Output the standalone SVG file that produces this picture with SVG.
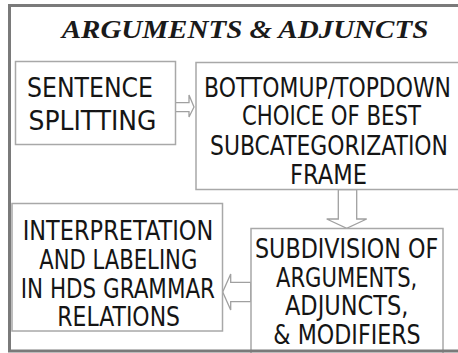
<svg xmlns="http://www.w3.org/2000/svg" width="458" height="353" viewBox="0 0 458 353">
<style>
.box{fill:#fff;stroke:#a8a8a8;stroke-width:1.5}
.arr{fill:#fff;stroke:#a0a0a0;stroke-width:1.3;stroke-linejoin:miter}
.t{font-family:"DejaVu Sans","Liberation Sans",sans-serif;font-size:27px;fill:#151515}
.title{font-family:"Liberation Serif",serif;font-size:25px;font-weight:bold;font-style:italic;fill:#1a1a1a}
</style>
<rect x="0" y="0" width="458" height="353" fill="#fff"/>
<text class="title" x="61.7" y="37.5" textLength="366.6" lengthAdjust="spacingAndGlyphs">ARGUMENTS &amp; ADJUNCTS</text>
<g id="connectors">
<polygon class="arr" points="175,102.7 189,102.7 189,95 194,107 189,117 189,111.7 175,111.7"/>
<polygon class="arr" points="338.3,189.5 356.7,189.5 356.7,219 366.7,219 346.7,228.3 326.7,219 338.3,219"/>
<polygon class="arr" points="250.7,282.3 230.7,282.3 230.7,274 222.7,292 230.7,310 230.7,301.7 250.7,301.7"/>
</g>
<g id="sentence">
<rect class="box" x="15.5" y="61.5" width="160" height="83"/>
<text class="t" x="27" y="97" textLength="126" lengthAdjust="spacingAndGlyphs">SENTENCE</text>
<text class="t" x="28.5" y="129.5" textLength="128" lengthAdjust="spacingAndGlyphs">SPLITTING</text>
</g>
<g id="choice">
<rect class="box" x="196" y="62.5" width="270" height="127"/>
<text class="t" x="204" y="97" textLength="247" lengthAdjust="spacingAndGlyphs">BOTTOMUP/TOPDOWN</text>
<text class="t" x="242" y="125" textLength="179" lengthAdjust="spacingAndGlyphs">CHOICE OF BEST</text>
<text class="t" x="210" y="154.5" textLength="238" lengthAdjust="spacingAndGlyphs">SUBCATEGORIZATION</text>
<text class="t" x="290" y="183.5" textLength="77" lengthAdjust="spacingAndGlyphs">FRAME</text>
</g>
<g id="interpretation">
<rect class="box" x="12" y="203.5" width="210.5" height="127.5"/>
<text class="t" x="22.7" y="240" textLength="190.6" lengthAdjust="spacingAndGlyphs">INTERPRETATION</text>
<text class="t" x="39.3" y="269" textLength="158" lengthAdjust="spacingAndGlyphs">AND LABELING</text>
<text class="t" x="20.7" y="297.7" textLength="194.3" lengthAdjust="spacingAndGlyphs">IN HDS GRAMMAR</text>
<text class="t" x="57.3" y="325.7" textLength="122.7" lengthAdjust="spacingAndGlyphs">RELATIONS</text>
</g>
<g id="subdivision">
<rect class="box" x="251" y="228.5" width="192" height="130"/>
<text class="t" x="255" y="258.3" textLength="183.3" lengthAdjust="spacingAndGlyphs">SUBDIVISION OF</text>
<text class="t" x="276" y="286.7" textLength="141.3" lengthAdjust="spacingAndGlyphs">ARGUMENTS,</text>
<text class="t" x="285" y="315" textLength="123.3" lengthAdjust="spacingAndGlyphs">ADJUNCTS,</text>
<text class="t" x="273.3" y="344.3" textLength="147.4" lengthAdjust="spacingAndGlyphs">&amp; MODIFIERS</text>
</g>
<rect x="9.5" y="5.5" width="460" height="345.5" fill="none" stroke="#7a7a7a" stroke-width="3"/>
</svg>
